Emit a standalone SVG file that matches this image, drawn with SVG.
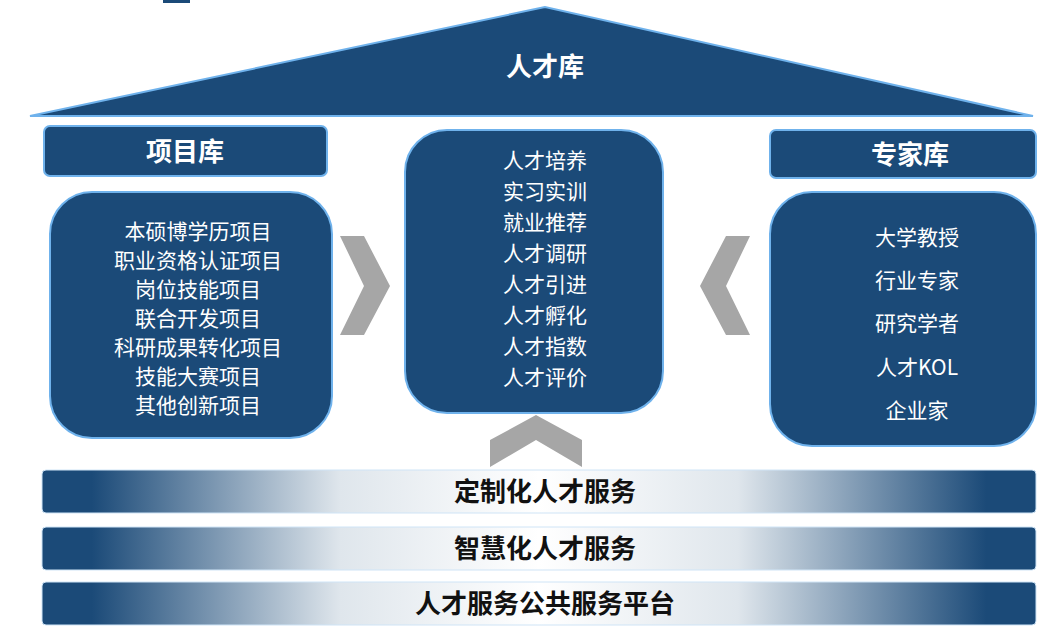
<svg xmlns="http://www.w3.org/2000/svg" width="1062" height="634" viewBox="0 0 1062 634">
<style>
.n{fill:#1b4a78;stroke:#6fb2ec;stroke-width:2}
.t{font-family:"Noto Sans CJK SC",sans-serif;fill:#fff;text-anchor:middle}
.h{font-size:26px;font-weight:bold}
.l{font-size:21px}
.b{font-family:"Noto Sans CJK SC",sans-serif;font-size:26px;font-weight:bold;fill:#111;text-anchor:middle}
.chev{fill:#a6a6a6}
.band{fill:url(#g);stroke:#cfe4f6;stroke-width:1}
</style>
<defs>
<linearGradient id="g" x1="0" x2="1" y1="0" y2="0">
<stop offset="0" stop-color="#1b4a78"/><stop offset="0.05" stop-color="#1b4a78"/>
<stop offset="0.3" stop-color="#dfe6ec"/><stop offset="0.5" stop-color="#ffffff"/>
<stop offset="0.7" stop-color="#dfe6ec"/><stop offset="0.95" stop-color="#1b4a78"/><stop offset="1" stop-color="#1b4a78"/>
</linearGradient>
</defs>
<rect width="1062" height="634" fill="#fff"/>
<rect x="163" y="0" width="27" height="3" fill="#1b4a78"/>
<g id="roof"><polygon class="n" points="545,7 30,116 1033,116"/><text class="t h" x="545" y="76">人才库</text></g>
<g id="xmk"><rect class="n" x="44" y="126" width="283" height="50" rx="6"/><text class="t h" x="185" y="161">项目库</text></g>
<g id="xmbody"><rect class="n" x="50" y="192" width="282" height="246" rx="42"/>
<text class="t l"><tspan x="198" y="239">本硕博学历项目</tspan><tspan x="198" y="268">职业资格认证项目</tspan><tspan x="198" y="297">岗位技能项目</tspan><tspan x="198" y="326">联合开发项目</tspan><tspan x="198" y="355">科研成果转化项目</tspan><tspan x="198" y="384">技能大赛项目</tspan><tspan x="198" y="413">其他创新项目</tspan></text></g>
<g id="center"><rect class="n" x="405" y="130" width="258" height="283" rx="42"/>
<text class="t l"><tspan x="545" y="168">人才培养</tspan><tspan x="545" y="199">实习实训</tspan><tspan x="545" y="230">就业推荐</tspan><tspan x="545" y="261">人才调研</tspan><tspan x="545" y="292">人才引进</tspan><tspan x="545" y="323">人才孵化</tspan><tspan x="545" y="354">人才指数</tspan><tspan x="545" y="385">人才评价</tspan></text></g>
<g id="zjk"><rect class="n" x="770" y="130" width="266" height="48" rx="6"/><text class="t h" x="910" y="164">专家库</text></g>
<g id="zjbody"><rect class="n" x="770" y="192" width="266" height="254" rx="42"/>
<text class="t l"><tspan x="917" y="245">大学教授</tspan><tspan x="917" y="288">行业专家</tspan><tspan x="917" y="331">研究学者</tspan><tspan x="917" y="375">人才KOL</tspan><tspan x="917" y="418">企业家</tspan></text></g>
<g id="connectors">
<polygon class="chev" points="340,236 364,236 390,286 364,335 340,335 364,286"/>
<polygon class="chev" points="750,236 726,236 700,286 726,335 750,335 726,286"/>
<polygon class="chev" points="490,467 490,440 536,415 582,440 582,467 536,440"/>
</g>
<g id="band1"><rect class="band" x="42" y="470" width="994" height="43" rx="4"/><text class="b" x="545" y="501">定制化人才服务</text></g>
<g id="band2"><rect class="band" x="42" y="527" width="994" height="43" rx="4"/><text class="b" x="545" y="558">智慧化人才服务</text></g>
<g id="band3"><rect class="band" x="42" y="582" width="994" height="43" rx="4"/><text class="b" x="545" y="613">人才服务公共服务平台</text></g>
</svg>
